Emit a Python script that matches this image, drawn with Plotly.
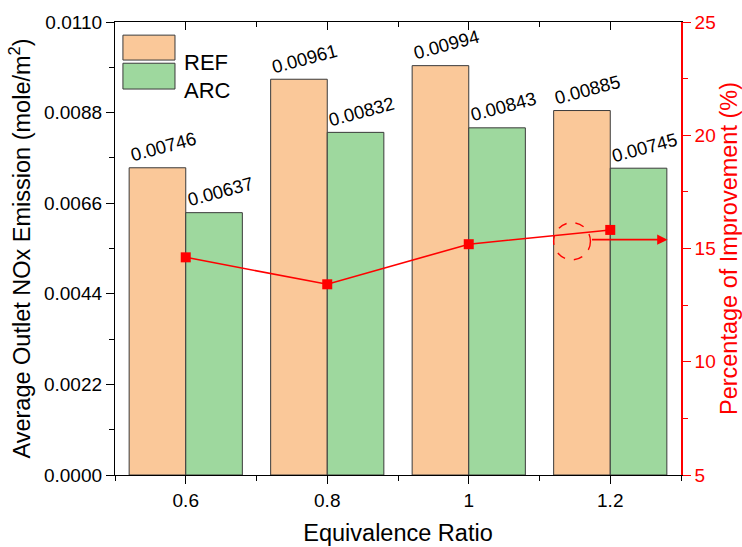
import plotly.graph_objects as go

# Equivalence ratios and average outlet NOx emission (mole/m^2)
ratios = [0.6, 0.8, 1.0, 1.2]
ref_nox = [0.00746, 0.00961, 0.00994, 0.00885]
arc_nox = [0.00637, 0.00832, 0.00843, 0.00745]
# Percentage of improvement of ARC over REF
improvement = [14.61, 13.42, 15.19, 15.82]

ref_color = "#FAC899"
arc_color = "#9ED89E"
edge = "#3a3a3a"
red = "#FF0000"
font_family = "Liberation Sans, Arial, sans-serif"
bar_w = 0.08

fig = go.Figure()

fig.add_trace(go.Bar(
    x=ratios, y=ref_nox, width=bar_w, offset=-bar_w, name="REF",
    marker=dict(color=ref_color, line=dict(color=edge, width=1)),
    showlegend=False,
))
fig.add_trace(go.Bar(
    x=ratios, y=arc_nox, width=bar_w, offset=0, name="ARC",
    marker=dict(color=arc_color, line=dict(color=edge, width=1)),
    showlegend=False,
))
fig.add_trace(go.Scatter(
    x=ratios, y=improvement, yaxis="y2", mode="lines+markers",
    line=dict(color=red, width=1.6),
    marker=dict(symbol="square", size=10, color=red),
    showlegend=False,
))
# invisible trace so the top frame axis is drawn
fig.add_trace(go.Scatter(x=[0.5, 1.3], y=[0, 0], xaxis="x2", mode="none",
                         showlegend=False, hoverinfo="skip"))

annotations = []
for x, r, a in zip(ratios, ref_nox, arc_nox):
    for xc, v in ((x - bar_w / 2, r), (x + bar_w / 2, a)):
        annotations.append(dict(
            x=xc, y=v, xref="x", yref="y", text=f"{v:.5f}",
            showarrow=False, textangle=-15, xshift=6, yshift=21,
            font=dict(size=18.5, color="black", family=font_family),
        ))

# arrow from the circled point towards the right-hand axis
annotations.append(dict(
    x=1.281, y=15.39, ax=1.172, ay=15.39, xref="x", yref="y2",
    axref="x", ayref="y2", text="", showarrow=True,
    arrowhead=2, arrowsize=1.3, arrowwidth=1.6, arrowcolor=red,
))

# legend patches and labels
legend_items = [("REF", ref_color, 0.971, 0.916), ("ARC", arc_color, 0.909, 0.852)]
shapes = []
for label, col, y1, y0 in legend_items:
    shapes.append(dict(type="rect", xref="paper", yref="paper",
                       x0=0.014, x1=0.106, y0=y0, y1=y1,
                       fillcolor=col, line=dict(color=edge, width=1)))
    annotations.append(dict(x=0.118, y=(y0 + y1) / 2, xref="paper", yref="paper",
                            text=label, showarrow=False, xanchor="left",
                            font=dict(size=22, color="black", family=font_family)))

shapes.append(dict(type="circle", xref="x", yref="y2",
                   x0=1.120, x1=1.172, y0=14.50, y1=16.14,
                   line=dict(color=red, width=1.4, dash="dash")))

fig.update_layout(
    width=742, height=547,
    margin=dict(l=115, r=61, t=22, b=72),
    paper_bgcolor="white", plot_bgcolor="white",
    font=dict(family=font_family, color="black"),
    barmode="overlay",
    annotations=annotations, shapes=shapes,
    xaxis=dict(
        range=[0.5, 1.3], tickvals=ratios, ticktext=["0.6", "0.8", "1", "1.2"],
        ticks="outside", ticklen=8, tickwidth=1.2, tickcolor="black",
        minor=dict(tickvals=[0.5, 0.7, 0.9, 1.1, 1.3], ticks="outside",
                   ticklen=5, tickcolor="black", tickwidth=1.2),
        showline=True, linecolor="black", linewidth=1.3, showgrid=False,
        zeroline=False, tickfont=dict(size=19), automargin=False,
        title=dict(text="Equivalence Ratio", font=dict(size=23.5), standoff=14),
    ),
    xaxis2=dict(
        overlaying="x", side="top", range=[0.5, 1.3], tickvals=ratios,
        showticklabels=False, ticks="inside", ticklen=8, tickwidth=1.2,
        tickcolor="black", automargin=False,
        minor=dict(tickvals=[0.7, 0.9, 1.1], ticks="inside", ticklen=5,
                   tickcolor="black", tickwidth=1.2),
        showline=True, linecolor="black", linewidth=1.3, showgrid=False,
        zeroline=False,
    ),
    yaxis=dict(
        range=[0, 0.011], tickvals=[0, 0.0022, 0.0044, 0.0066, 0.0088, 0.011],
        ticktext=["0.0000", "0.0022", "0.0044", "0.0066", "0.0088", "0.0110"],
        ticks="outside", ticklen=8, tickwidth=1.2, tickcolor="black",
        minor=dict(tickvals=[0.0011, 0.0033, 0.0055, 0.0077, 0.0099],
                   ticks="outside", ticklen=5, tickcolor="black", tickwidth=1.2),
        showline=True, linecolor="black", linewidth=1.3, showgrid=False,
        zeroline=False, tickfont=dict(size=19), automargin=False,
        title=dict(text="Average Outlet NOx Emission (mole/m<sup>2</sup>)",
                   font=dict(size=23.5), standoff=6),
    ),
    yaxis2=dict(
        overlaying="y", side="right", range=[5, 25],
        tickvals=[5, 10, 15, 20, 25], ticks="outside", ticklen=8, tickwidth=1.2,
        tickcolor=red, automargin=False,
        minor=dict(tickvals=[7.5, 12.5, 17.5, 22.5], ticks="outside",
                   ticklen=5, tickcolor=red, tickwidth=1.2),
        showline=True, linecolor=red, linewidth=1.6, showgrid=False,
        zeroline=False, tickfont=dict(size=19, color=red),
        title=dict(text="Percentage of Improvement (%)",
                   font=dict(size=23.5, color=red), standoff=6),
    ),
)

fig.write_html("out.html")
